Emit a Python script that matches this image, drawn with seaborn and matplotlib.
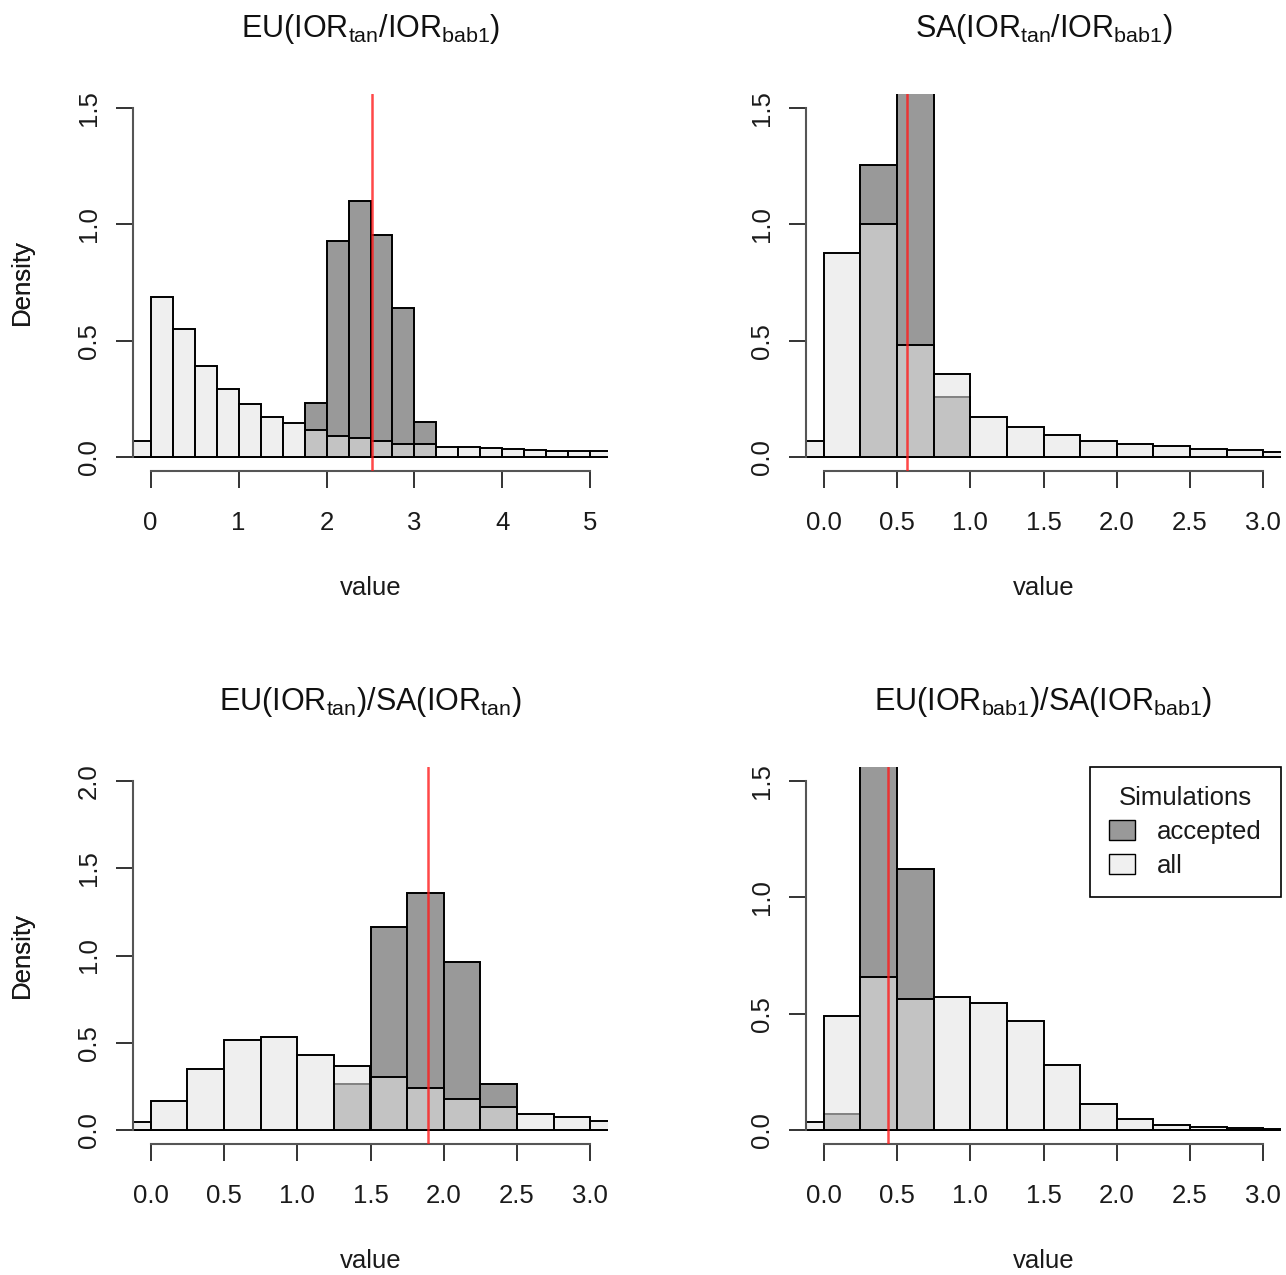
import numpy as np
import pandas as pd
import matplotlib
matplotlib.use('Agg')
import matplotlib.pyplot as plt
import seaborn as sns
from matplotlib.patches import Patch

sns.set_style('ticks')
plt.rcParams['font.family'] = ['Liberation Sans', 'DejaVu Sans']
plt.rcParams['mathtext.fontset'] = 'custom'
plt.rcParams['mathtext.rm'] = 'Liberation Sans'
plt.rcParams['mathtext.it'] = 'Liberation Sans:italic'
plt.rcParams['mathtext.bf'] = 'Liberation Sans:bold'

# ---------------- data ----------------
bin_width = 0.25
bin_start = -0.25

titles = [
    r'EU(IOR$_\mathregular{tan}$/IOR$_\mathregular{bab1}$)',
    r'SA(IOR$_\mathregular{tan}$/IOR$_\mathregular{bab1}$)',
    r'EU(IOR$_\mathregular{tan}$)/SA(IOR$_\mathregular{tan}$)',
    r'EU(IOR$_\mathregular{bab1}$)/SA(IOR$_\mathregular{bab1}$)',
]

# densities per 0.25-wide bin starting at -0.25
all_eu_ratio = [0.070, 0.689, 0.551, 0.391, 0.291, 0.227, 0.174, 0.146, 0.116, 0.089, 0.080,
                0.067, 0.056, 0.056, 0.044, 0.043, 0.037, 0.035, 0.032, 0.028, 0.026, 0.026]
acc_eu_ratio = [0, 0, 0, 0, 0, 0, 0, 0, 0.231, 0.927, 1.099, 0.953, 0.639, 0.151,
                0, 0, 0, 0, 0, 0, 0, 0]

all_sa_ratio = [0.070, 0.877, 1.003, 0.480, 0.356, 0.174, 0.127, 0.094, 0.070, 0.056,
                0.046, 0.036, 0.032, 0.023]
acc_sa_ratio = [0, 0, 1.256, 2.490, 0.256, 0, 0, 0, 0, 0, 0, 0, 0, 0]

all_tan = [0.048, 0.168, 0.349, 0.515, 0.534, 0.430, 0.368, 0.302, 0.242, 0.178,
           0.134, 0.092, 0.073, 0.052]
acc_tan = [0, 0, 0, 0, 0, 0, 0.263, 1.161, 1.359, 0.964, 0.262, 0, 0, 0]

all_bab1 = [0.033, 0.491, 0.658, 0.565, 0.572, 0.548, 0.469, 0.279, 0.114, 0.046,
            0.021, 0.011, 0.008, 0.006]
acc_bab1 = [0, 0.069, 2.810, 1.121, 0, 0, 0, 0, 0, 0, 0, 0, 0, 0]

observed = [2.515, 0.572, 1.891, 0.44]

x_max = [5, 3, 3, 3]
y_max = [1.5, 1.5, 2.0, 1.5]
x_ticks = [[0, 1, 2, 3, 4, 5],
           [0, 0.5, 1, 1.5, 2, 2.5, 3],
           [0, 0.5, 1, 1.5, 2, 2.5, 3],
           [0, 0.5, 1, 1.5, 2, 2.5, 3]]
x_ticklabels = [['0', '1', '2', '3', '4', '5'],
                ['0.0', '0.5', '1.0', '1.5', '2.0', '2.5', '3.0']] + \
               [['0.0', '0.5', '1.0', '1.5', '2.0', '2.5', '3.0']] * 2
y_ticks = [[0, 0.5, 1.0, 1.5], [0, 0.5, 1.0, 1.5], [0, 0.5, 1.0, 1.5, 2.0], [0, 0.5, 1.0, 1.5]]
y_ticklabels = [['0.0', '0.5', '1.0', '1.5'], ['0.0', '0.5', '1.0', '1.5'],
                ['0.0', '0.5', '1.0', '1.5', '2.0'], ['0.0', '0.5', '1.0', '1.5']]

all_sets = [all_eu_ratio, all_sa_ratio, all_tan, all_bab1]
acc_sets = [acc_eu_ratio, acc_sa_ratio, acc_tan, acc_bab1]

# ---------------- layout ----------------
W, H = 1286, 1275
fig = plt.figure(figsize=(W / 100, H / 100), dpi=100)
regions = [(133, 94), (806, 94), (133, 767), (806, 767)]
rw, rh = 475, 377

FS = 18.5
acc_color = '#999999'
all_rgb = '#e4e4e4'
all_alpha = 0.57
txt_color = '#1a1a1a'

for i in range(4):
    lx, ty = regions[i]
    ax = fig.add_axes([lx / W, (H - ty - rh) / H, rw / W, rh / H])
    n = len(all_sets[i])
    edges = [bin_start + bin_width * k for k in range(n + 1)]
    centers = [e + bin_width / 2 for e in edges[:-1]]
    df = pd.DataFrame({'value': centers, 'accepted': acc_sets[i], 'all': all_sets[i]})

    sns.histplot(data=df, x='value', weights='accepted', bins=edges, stat='count',
                 color=acc_color, alpha=1.0, edgecolor='black', linewidth=1.4, ax=ax)
    sns.histplot(data=df, x='value', weights='all', bins=edges, stat='count',
                 color=all_rgb, alpha=all_alpha, edgecolor='black', linewidth=1.4, ax=ax)
    ax.axvline(observed[i], color='#ff1a1a', lw=1.8, alpha=0.8, zorder=5)

    ext_x = 0.04 * x_max[i]
    ext_y = 0.04 * y_max[i]
    ax.set_xlim(-ext_x, x_max[i] + ext_x)
    ax.set_ylim(-ext_y, y_max[i] + ext_y)

    ax.set_xticks(x_ticks[i])
    ax.set_xticklabels(x_ticklabels[i])
    ax.set_yticks(y_ticks[i])
    ax.set_yticklabels(y_ticklabels[i], rotation=90, va='center')

    sns.despine(ax=ax)
    for side in ('left', 'bottom'):
        ax.spines[side].set_color('#555555')
        ax.spines[side].set_linewidth(1.5)
    ax.spines['left'].set_bounds(0, y_max[i])
    ax.spines['bottom'].set_bounds(0, x_max[i])
    ax.tick_params(axis='both', direction='out', length=12.5, width=1.4, color='#333333',
                   labelsize=FS, labelcolor=txt_color)
    ax.tick_params(axis='x', pad=16)
    ax.tick_params(axis='y', pad=10.5)

    ax.set_xlabel('value', fontsize=FS, color=txt_color, va='center')
    ax.xaxis.set_label_coords(0.5, -117 / rh)
    ax.set_ylabel('Density', fontsize=FS, color=txt_color, va='center')
    ax.yaxis.set_label_coords(-(lx - 22) / rw, 0.5)

    ax.set_title(titles[i], fontsize=22, color='#111111', y=1 + 65 / rh, va='center', pad=0)

    if i == 3:
        handles = [Patch(facecolor=acc_color, edgecolor='black', label='accepted'),
                   Patch(facecolor='#f0f0f0', edgecolor='black', label='all')]
        leg = ax.legend(handles=handles, title='Simulations', loc='upper right',
                        borderaxespad=0, fancybox=False, edgecolor='black', framealpha=1,
                        fontsize=FS, title_fontsize=FS, handlelength=1.0, handleheight=0.8,
                        handletextpad=0.85, borderpad=0.75, labelspacing=0.38)
        leg.get_frame().set_linewidth(1.2)
        leg.get_title().set_color(txt_color)
        for t in leg.get_texts():
            t.set_color(txt_color)

fig.savefig('out.png', dpi=100)
